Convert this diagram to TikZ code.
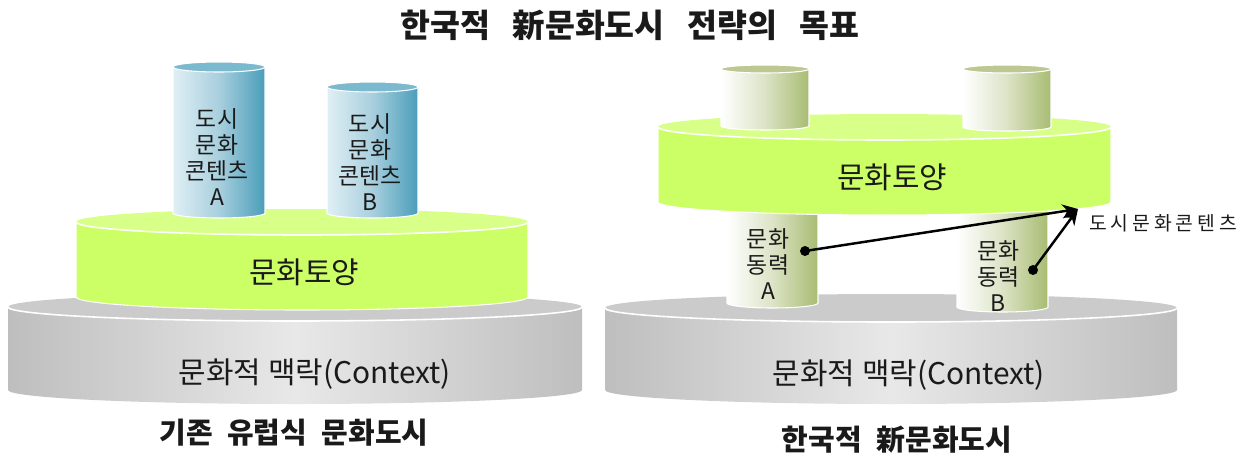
\documentclass[tikz,border=0pt]{standalone}
\usepackage{fontspec}
\setmainfont{Noto Sans CJK KR}
\usetikzlibrary{arrows.meta}
\definecolor{grayE}{HTML}{BEBEBE}
\definecolor{grayM}{HTML}{E8E8E8}
\definecolor{grayT}{HTML}{CBCBCB}
\definecolor{greenS}{HTML}{CCFF66}
\definecolor{greenT}{HTML}{D8FF88}
\definecolor{blueL}{HTML}{E0EFF5}
\definecolor{blueM}{HTML}{A8CFDE}
\definecolor{blueR}{HTML}{4A9DBA}
\definecolor{blueT}{HTML}{7AB9CE}
\definecolor{oliveM}{HTML}{DCE3C6}
\definecolor{oliveR}{HTML}{A8BC72}
\definecolor{oliveT}{HTML}{BCC792}
\definecolor{txtc}{HTML}{1A1A1A}
\newcommand{\cylside}[6]{\path[#1] ({#2-#5},#3) -- ({#2-#5},#4) arc[start angle=180,end angle=0,x radius=#5,y radius=#6] -- ({#2+#5},#3) -- cycle;}
\newcommand{\cyltop}[5]{\path[#1] (#2,#3) ellipse[x radius=#4,y radius=#5];}
\newcommand{\frontarc}[5]{\path[#1] ({#2-#4},#3) arc[start angle=180,end angle=0,x radius=#4,y radius=#5];}
\begin{document}
\begin{tikzpicture}[x=0.02cm,y=0.02cm,yscale=-1,
  graybody/.style={left color=grayE,right color=grayE,middle color=grayM},
  graytop/.style={fill=grayT},
  greenbody/.style={fill=greenS,draw=white,line width=0.6pt},
  greentop/.style={fill=greenT},
  bluebody/.style={left color=blueL,right color=blueR,middle color=blueM,draw=white,line width=0.6pt},
  bluetop/.style={fill=blueT,draw=white,line width=0.6pt},
  olivebody/.style={left color=white,right color=oliveR,middle color=oliveM,draw=white,line width=0.6pt},
  olivetop/.style={fill=oliveT,draw=white,line width=0.6pt},
  rim/.style={draw=white,line width=0.9pt},
  txt/.style={text=txtc,inner sep=0pt,align=center},
  cyltxt/.style={txt,font=\fontsize{13}{14.8}\selectfont},
  soiltxt/.style={txt,font=\fontsize{17}{20}\selectfont},
  ctxtxt/.style={txt,font=\fontsize{17}{20}\selectfont},
  captxt/.style={txt,font=\bfseries\fontsize{16.5}{19}\selectfont},
  dot/.style={circle,fill=black,minimum size=0.2cm,inner sep=0pt},
  conn/.style={line width=1.4pt,-{Stealth[length=9pt,width=8pt]}}]
\useasboundingbox (0,0) rectangle (1250,454);

% title
\node[captxt,font=\bfseries\fontsize{18.5}{21}\selectfont] (title) at (630,25)
  {한국적\hspace{0.7em}新문화도시\hspace{0.7em}전략의\hspace{0.7em}목표};

% ===== left diagram =====
\cylside{graybody}{295}{307}{390}{287}{14}
\cyltop{graytop}{295}{307}{287}{14}
\frontarc{rim}{295}{307}{287}{14}

\cylside{greenbody}{302}{222}{297}{226}{13}
\cyltop{greentop}{302}{222}{226}{13}
\frontarc{rim}{302}{222}{226}{13}

\cylside{bluebody}{219}{67}{213}{46}{5}
\cyltop{bluetop}{219}{67}{46}{5}
\cylside{bluebody}{372.5}{87}{213}{45.5}{5}
\cyltop{bluetop}{372.5}{87}{45.5}{5}

\node[cyltxt] (contA) at (217,157) {도시\\문화\\콘텐츠\\A};
\node[cyltxt] (contB) at (370,162) {도시\\문화\\콘텐츠\\B};
\node[soiltxt] (soilL) at (304,272) {문화토양};
\node[ctxtxt] (ctxL) at (315,374) {문화적 맥락(Context)};
\node[captxt] (capL) at (294,433) {기존\hspace{0.5em}유럽식\hspace{0.5em}문화도시};

% ===== right diagram =====
\cylside{graybody}{891}{308}{390}{286}{14}
\cyltop{graytop}{891}{308}{286}{14}
\frontarc{rim}{891}{308}{286}{14}

\cylside{olivebody}{772.5}{195}{303}{45.5}{5}
\cylside{olivebody}{1002.5}{195}{307}{45.5}{5}

\cylside{greenbody}{884.5}{127}{202}{226.5}{13}
\cyltop{greentop}{884.5}{127}{226.5}{13}
\frontarc{rim}{884.5}{127}{226.5}{13}

\cylside{olivebody}{765}{69}{126}{44}{4}
\cyltop{olivetop}{765}{69}{44}{4}
\cylside{olivebody}{1007}{69}{127}{44}{4}
\cyltop{olivetop}{1007}{69}{44}{4}

\node[soiltxt] (soilR) at (892,177) {문화토양};
\node[ctxtxt] (ctxR) at (909,375) {문화적 맥락(Context)};
\node[captxt] (capR) at (897,440) {한국적\hspace{0.5em}新문화도시};

\node[cyltxt] (powA) at (768,264) {문화\\동력\\A};
\node[cyltxt] (powB) at (998,276) {문화\\동력\\B};

\coordinate (tip) at (1078,209);
\node[dot] (dA) at (805,251) {};
\node[dot] (dB) at (1033,270) {};
\draw[conn] (dA.center) -- (tip);
\draw[conn] (dB.center) -- (tip);
\node[txt,font=\fontsize{11}{13}\selectfont,anchor=west] (lbl) at (1089,223)
  {도\kern2.2pt 시\kern2.2pt 문\kern2.2pt 화\kern2.2pt 콘\kern2.2pt 텐\kern2.2pt 츠};
\end{tikzpicture}
\end{document}
